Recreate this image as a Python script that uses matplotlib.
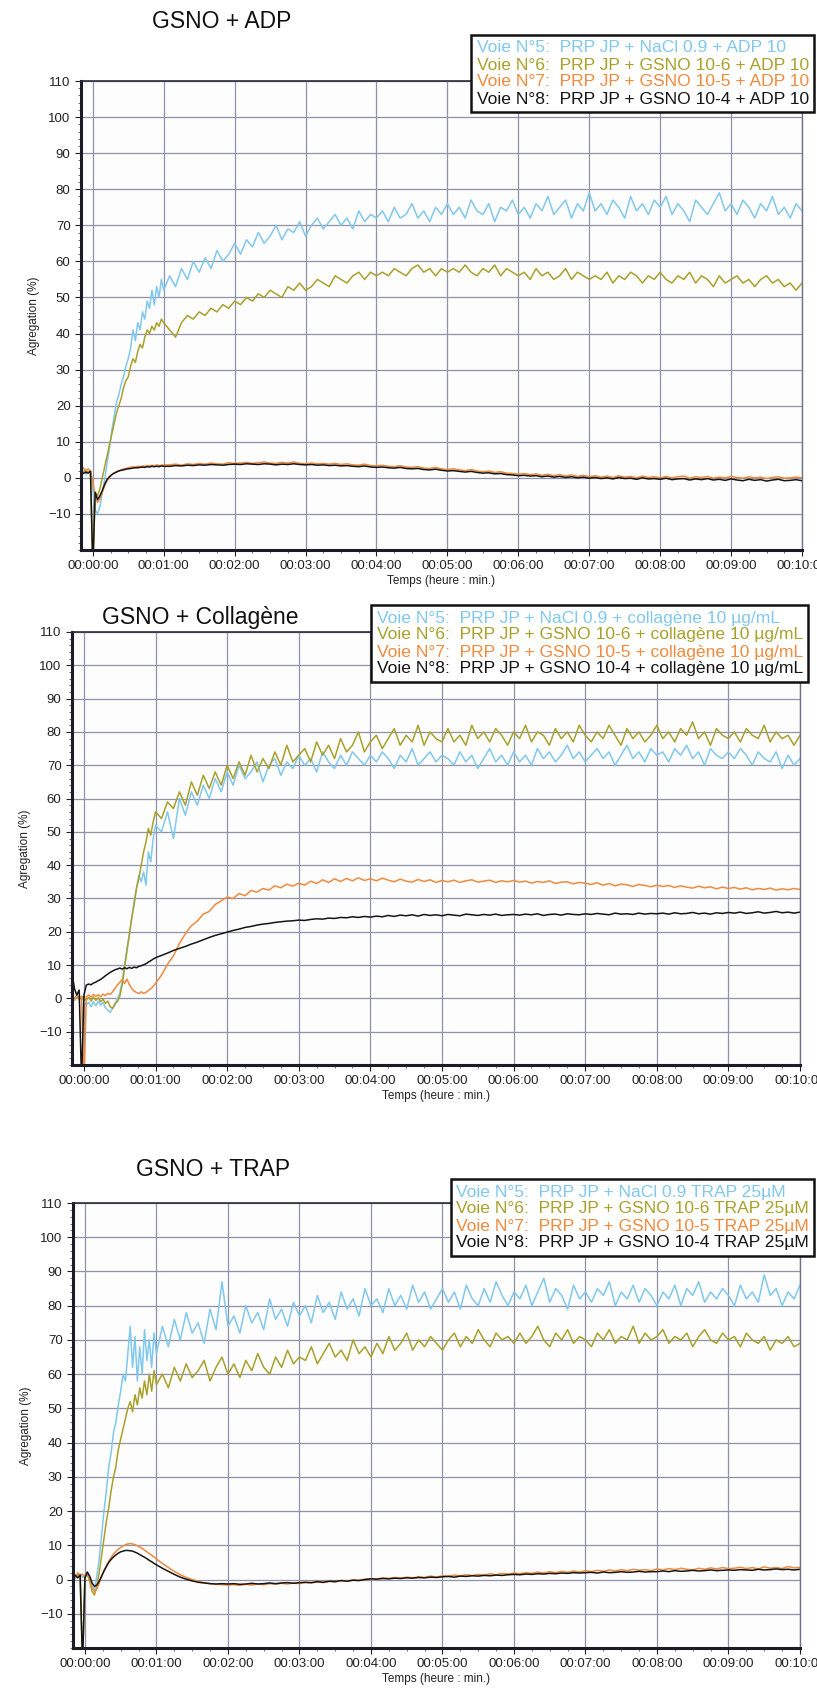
import numpy as np
import matplotlib.pyplot as plt
from matplotlib.ticker import MultipleLocator, FuncFormatter
from matplotlib.lines import Line2D

plt.rcParams['font.family'] = ['Liberation Sans', 'DejaVu Sans']

W, H = 817, 1698

# sampling times in seconds (fine at the start, coarser afterwards)
t_early = np.arange(-10, 61, 2)
t_late = np.arange(65, 601, 5)
t_all = np.concatenate([t_early, t_late])

colors = ['#80c8ec', '#a9a12a', '#f08a3c', '#151515']

# ---------------- GSNO + ADP ----------------
adp_blue_early = [1.2, 2.0, 1.0, 1.8, 1.4, -3, -9, -10, -8, -4, -0.5, 4, 8, 13, 17, 21, 23, 26,
                  28, 31, 33, 36, 41, 38, 43, 41, 46, 44, 49, 47, 52, 48, 53, 50, 55, 52]
adp_blue_late = [56, 53, 58, 55, 60, 57, 61, 58, 63, 60, 62, 65,
                 62, 66, 64, 68, 65, 67, 70, 66, 69, 68, 71, 67,
                 70, 72, 69, 71, 73, 70, 72, 69, 74, 71, 73, 72,
                 74, 71, 75, 72, 73, 76, 72, 74, 71, 75, 73, 76,
                 73, 75, 72, 77, 74, 73, 76, 71, 75, 74, 77, 73,
                 75, 72, 76, 74, 78, 73, 75, 77, 72, 76, 74, 79,
                 74, 76, 73, 77, 75, 72, 78, 74, 76, 73, 77, 75,
                 78, 73, 76, 74, 71, 77, 75, 73, 76, 79, 74, 76,
                 73, 77, 75, 72, 76, 74, 78, 73, 75, 72, 76, 74]
adp_olive_early = [1.8, 1.3, 2.2, 1.5, 1.9, -25, -4, -5, -3, 0, 3, 6, 9, 12, 15, 18, 20, 22,
                   25, 27, 28, 31, 33, 32, 35, 37, 36, 39, 41, 40, 42, 41, 43, 42, 44, 43]
adp_olive_late = [41, 39, 43, 45, 44, 46, 45, 47, 46, 48, 47, 49,
                  48, 50, 49, 51, 50, 52, 51, 50, 53, 52, 54, 52,
                  53, 55, 54, 53, 56, 55, 54, 56, 57, 55, 57, 56,
                  57, 56, 58, 57, 56, 58, 59, 57, 58, 56, 58, 57,
                  58, 57, 59, 57, 56, 58, 57, 59, 56, 58, 57, 56,
                  57, 55, 58, 56, 57, 55, 56, 58, 55, 57, 56, 55,
                  56, 55, 57, 54, 56, 55, 57, 56, 54, 56, 55, 57,
                  55, 54, 56, 55, 57, 54, 56, 55, 53, 56, 54, 55,
                  56, 54, 55, 53, 55, 56, 54, 55, 53, 54, 52, 54]
adp_orange_early = [2.2, 2.8, 1.9, 2.5, 2.0, -1.0, -5, -6.8, -5.8, -4.0, -2.2, -0.8, 0.1, 0.8,
                    1.3, 1.7, 2.0, 2.2, 2.5, 2.6, 2.8, 2.9, 3.1, 3.0, 3.2, 3.1, 3.3, 3.2, 3.4,
                    3.3, 3.5, 3.3, 3.6, 3.4, 3.5, 3.6]
adp_orange_late = [3.6, 3.8, 3.5, 3.9, 3.7, 4.0, 3.8, 4.1, 3.9, 3.8, 4.2, 4.0,
                   4.1, 4.3, 4.0, 4.2, 4.4, 4.1, 4.0, 4.3, 4.1, 4.4, 4.0, 3.9,
                   4.1, 3.9, 4.0, 3.8, 4.0, 3.7, 3.9, 3.6, 3.5, 3.8, 3.4, 3.3,
                   3.5, 3.2, 3.1, 3.4, 3.0, 2.9, 3.1, 2.7, 2.6, 2.9, 2.5, 2.3,
                   2.5, 2.2, 2.0, 2.3, 1.9, 1.7, 1.9, 1.5, 1.7, 1.3, 1.2, 1.0,
                   1.2, 0.9, 1.1, 0.7, 1.0, 0.6, 0.9, 0.5, 0.8, 0.4, 0.7, 0.3,
                   0.6, 0.2, 0.5, 0.1, 0.6, 0.2, 0.4, 0.0, 0.5, 0.1, 0.3, 0.0,
                   0.4, 0.0, 0.3, 0.5, -0.1, 0.3, 0.1, 0.4, -0.1, 0.2, 0.0, 0.4,
                   0.1, -0.1, 0.3, 0.0, 0.2, -0.2, 0.1, 0.3, -0.1, 0.0, 0.2, 0.0]
adp_black_early = [1.5, 1.2, 1.6, 1.3, 1.8, -25, -4, -6, -5, -3.5, -1.8, -0.5, 0.3, 0.9, 1.3,
                   1.6, 1.9, 2.1, 2.2, 2.4, 2.5, 2.6, 2.7, 2.8, 2.8, 2.9, 3.0, 2.9, 3.1, 3.0,
                   3.2, 3.1, 3.2, 3.1, 3.3, 3.2]
adp_black_late = [3.2, 3.4, 3.3, 3.5, 3.4, 3.6, 3.5, 3.7, 3.6, 3.5, 3.7, 3.8,
                  3.7, 3.9, 3.8, 3.7, 3.9, 3.8, 3.6, 3.8, 3.7, 3.9, 3.7, 3.6,
                  3.7, 3.5, 3.6, 3.4, 3.5, 3.3, 3.4, 3.2, 3.1, 3.3, 3.0, 2.9,
                  3.0, 2.8, 2.7, 2.9, 2.6, 2.5, 2.6, 2.3, 2.2, 2.4, 2.1, 1.9,
                  2.0, 1.8, 1.6, 1.8, 1.5, 1.3, 1.4, 1.1, 1.2, 0.9, 0.8, 0.6,
                  0.7, 0.5, 0.6, 0.3, 0.5, 0.2, 0.4, 0.1, 0.3, 0.0, 0.2, -0.1,
                  0.1, -0.2, 0.0, -0.3, 0.1, -0.2, -0.1, -0.4, 0.0, -0.3, -0.2, -0.4,
                  -0.1, -0.5, -0.3, -0.2, -0.6, -0.3, -0.5, -0.2, -0.6, -0.4, -0.7, -0.3,
                  -0.6, -0.8, -0.4, -0.7, -0.5, -0.9, -0.6, -0.4, -0.8, -0.7, -0.5, -0.8]

# ---------------- GSNO + Collagene ----------------
col_blue_early = [0.2, -0.6, 0.5, -0.4, 0.3, -0.8, -2.0, -1.2, -2.5, -1.0, -2.2, -0.8, -2.0, -1.2,
                  -2.8, -3.5, -4.2, -3.0, -2.0, 0.0, 1.5, 5, 10, 15, 19, 24, 29, 33, 37, 35, 38,
                  34, 44, 41, 48, 52]
col_blue_late = [50, 56, 48, 60, 55, 62, 58, 64, 60, 66, 62, 68,
                 64, 70, 66, 68, 71, 65, 70, 72, 67, 71, 69, 73,
                 70, 72, 68, 74, 71, 69, 73, 70, 74, 72, 70, 73,
                 71, 74, 72, 69, 73, 71, 75, 70, 72, 74, 71, 73,
                 72, 70, 74, 71, 73, 69, 72, 75, 71, 73, 70, 74,
                 71, 73, 70, 75, 72, 74, 71, 73, 76, 72, 74, 71,
                 73, 75, 72, 74, 70, 73, 76, 72, 74, 71, 75, 73,
                 74, 71, 75, 73, 76, 72, 74, 70, 75, 73, 72, 74,
                 72, 75, 73, 70, 74, 72, 71, 74, 69, 73, 70, 72]
col_olive_early = [0.5, 0.0, 0.8, -0.3, 0.6, 0.2, -0.5, 0.3, -0.8, 0.4, -0.6, 0.2, -1.0, -0.2,
                   -1.5, -0.8, -2.5, -3.0, -1.5, -1.0, 0.5, 4, 9, 14, 19, 24, 28, 33, 36, 40,
                   44, 47, 51, 49, 53, 56]
col_olive_late = [54, 59, 57, 62, 58, 65, 61, 67, 63, 68, 64, 70,
                  66, 71, 67, 73, 68, 72, 69, 74, 70, 76, 71, 73,
                  75, 71, 77, 73, 76, 72, 78, 74, 76, 80, 74, 77,
                  79, 75, 78, 81, 76, 79, 77, 82, 76, 80, 78, 77,
                  81, 77, 79, 76, 82, 78, 80, 77, 81, 79, 76, 80,
                  78, 82, 77, 80, 79, 76, 81, 78, 80, 77, 82, 79,
                  77, 80, 78, 82, 79, 76, 81, 78, 80, 77, 79, 82,
                  78, 80, 77, 81, 79, 83, 78, 80, 76, 81, 79, 78,
                  80, 77, 81, 79, 78, 82, 77, 80, 78, 79, 76, 79]
col_orange_early = [0.5, -0.5, 0.8, 0.2, 0.6, -25, 0.5, 1.0, 0.4, 1.2, 0.6, 1.1, 0.5, 1.3, 0.8,
                    1.5, 1.2, 2.0, 3.0, 4.0, 4.8, 5.6, 4.5, 5.8, 4.2, 3.0, 2.2, 1.8, 1.4, 2.0,
                    1.5, 1.8, 2.4, 2.9, 3.6, 4.5]
col_orange_late = [7.0, 10.2, 12.8, 16.5, 19.4, 21.8, 23.2, 25.3, 26.1, 28.2, 29.3, 30.4,
                   30.0, 31.5, 30.8, 32.4, 31.9, 33.0, 32.5, 33.8, 33.2, 34.3, 33.7, 34.6,
                   34.0, 35.2, 34.5, 35.6, 34.8, 35.9, 35.1, 36.0, 35.3, 36.2, 35.4, 35.9,
                   35.3, 36.1, 35.5, 35.0, 35.8, 35.2, 34.9, 35.7, 35.1, 35.6, 34.8, 35.4,
                   35.0, 35.5, 34.8, 35.3, 35.6, 34.9, 35.2, 35.5, 34.8, 35.3, 35.0, 35.4,
                   34.9, 35.2, 34.6, 35.1, 34.8, 35.3, 34.5, 34.9, 35.0, 34.4, 34.8, 34.6,
                   34.2, 34.7, 34.0, 34.5, 33.8, 34.3, 34.1, 33.6, 34.2, 33.9, 33.5, 34.0,
                   33.6, 33.9, 33.3, 33.8, 33.4, 33.1, 33.7, 33.2, 33.5, 32.9, 33.4, 33.0,
                   33.3, 32.8, 33.2, 32.6, 33.0, 32.7, 33.1, 32.5, 32.9, 32.6, 33.0, 32.7]
col_black_early = [8, 3, 1, 2.5, -25, 1, 4, 4.3, 4.1, 4.6, 4.9, 5.3, 5.7, 6.2, 6.8, 7.3, 7.8, 8.2,
                   8.6, 8.8, 9.1, 8.8, 9.2, 8.9, 9.3, 9.0, 9.4, 9.2, 9.6, 9.8, 10.1, 10.4, 10.9,
                   11.3, 11.8, 12.2]
col_black_late = [12.9, 13.6, 14.4, 15.0, 15.6, 16.3, 16.9, 17.6, 18.3, 18.9, 19.4, 19.9,
                  20.4, 20.8, 21.3, 21.6, 22.0, 22.3, 22.5, 22.8, 23.0, 23.2, 23.3, 23.5,
                  23.4, 23.7, 23.9, 23.8, 24.1, 24.0, 24.3, 24.2, 24.5, 24.3, 24.6, 24.4,
                  24.7, 24.5, 24.9, 24.6, 25.0, 24.8, 25.1, 24.7, 25.2, 24.9, 25.1, 24.8,
                  25.2, 25.0, 24.8, 25.3, 25.1, 24.9, 25.2, 25.0, 25.3, 24.9, 25.1, 25.2,
                  25.0, 25.3, 25.1, 25.4, 24.9, 25.2, 25.3, 25.0, 25.4, 25.2, 25.1, 25.4,
                  25.2, 25.5, 25.3, 25.1, 25.6, 25.3, 25.4, 25.2, 25.6, 25.3, 25.5, 25.4,
                  25.6, 25.3, 25.7, 25.4, 25.5, 25.8, 25.4, 25.6, 25.3, 25.7, 25.5, 25.8,
                  25.6, 25.9, 25.5, 25.7, 26.0, 25.6, 25.8, 26.1, 25.7, 25.9, 25.6, 25.9]

# ---------------- GSNO + TRAP ----------------
trap_blue_early = [0.5, 1.5, 0.8, 1.7, 0.6, 1.2, 2.0, 0.5, -2.0, -3.0, 1.0, 6.0, 13, 20, 26, 33,
                   37, 43, 46, 51, 55, 60, 58, 66, 74, 62, 71, 58, 68, 60, 73, 64, 70, 62, 72, 66]
trap_blue_late = [74, 68, 76, 70, 78, 72, 75, 69, 79, 73, 87, 74,
                  77, 72, 80, 75, 78, 73, 82, 76, 79, 74, 81, 77,
                  80, 75, 83, 78, 81, 76, 84, 79, 82, 77, 85, 80,
                  82, 78, 85, 80, 83, 79, 86, 81, 84, 79, 82, 85,
                  81, 84, 79, 86, 82, 80, 85, 81, 87, 83, 80, 84,
                  82, 86, 80, 84, 88, 81, 85, 83, 79, 86, 82, 84,
                  81, 85, 83, 87, 80, 84, 82, 86, 81, 85, 83, 80,
                  84, 82, 86, 80, 85, 83, 87, 81, 84, 82, 85, 83,
                  80, 86, 82, 84, 81, 89, 83, 85, 80, 84, 82, 86]
trap_olive_early = [1.2, 0.4, 1.6, 0.8, -25, 0.6, 1.5, -0.5, -3.5, -4.5, -2.0, 2.0, 7, 12, 17, 21,
                    26, 30, 33, 38, 41, 44, 47, 50, 52, 49, 54, 51, 56, 53, 58, 54, 60, 55, 61, 57]
trap_olive_late = [60, 56, 62, 58, 63, 59, 61, 64, 58, 62, 65, 60,
                   63, 59, 64, 61, 66, 62, 60, 65, 62, 67, 63, 65,
                   64, 68, 63, 66, 69, 65, 67, 64, 70, 66, 68, 65,
                   69, 66, 71, 67, 69, 72, 67, 70, 68, 71, 69, 67,
                   70, 72, 68, 71, 69, 73, 70, 68, 72, 70, 71, 69,
                   72, 69, 71, 74, 70, 68, 72, 70, 73, 69, 71, 70,
                   68, 72, 70, 73, 69, 71, 70, 74, 69, 72, 70, 71,
                   73, 69, 71, 70, 72, 68, 71, 73, 70, 69, 72, 70,
                   71, 68, 72, 70, 69, 71, 67, 70, 69, 71, 68, 69]
trap_orange_early = [1.5, 0.6, 2.0, 1.0, 1.6, 0.8, 1.8, 0.0, -2.5, -3.5, -2.8, -1.0, 0.8, 2.5, 4.0,
                     5.3, 6.5, 7.4, 8.2, 8.9, 9.4, 9.8, 10.2, 10.4, 10.5, 10.4, 10.2, 9.9, 9.5,
                     9.1, 8.6, 8.1, 7.6, 7.1, 6.6, 6.0]
trap_orange_late = [4.7, 3.5, 2.4, 1.4, 0.6, 0.0, -0.5, -0.9, -1.2, -1.4, -1.5, -1.6,
                    -1.5, -1.7, -1.4, -1.6, -1.3, -1.5, -1.2, -1.4, -1.1, -1.3, -1.0, -1.2,
                    -0.9, -1.0, -0.7, -0.9, -0.5, -0.7, -0.3, -0.4, -0.1, -0.2, 0.1, 0.3,
                    0.2, 0.5, 0.3, 0.6, 0.4, 0.7, 0.5, 0.8, 0.6, 1.0, 0.7, 1.1,
                    1.0, 1.3, 1.1, 1.4, 1.2, 1.5, 1.3, 1.7, 1.4, 1.8, 1.6, 1.9,
                    1.7, 2.0, 1.8, 2.2, 1.9, 2.3, 2.0, 2.4, 2.1, 2.5, 2.2, 2.6,
                    2.3, 2.7, 2.4, 2.8, 2.5, 2.9, 2.6, 3.0, 2.7, 2.9, 2.6, 3.1,
                    2.8, 3.2, 2.9, 3.3, 3.0, 2.8, 3.3, 3.0, 3.4, 3.1, 3.5, 3.2,
                    3.3, 3.6, 3.2, 3.5, 3.1, 3.7, 3.3, 3.5, 3.2, 3.8, 3.4, 3.6]
trap_black_early = [0.8, 1.2, 0.5, 1.3, -25, 0.5, 2.2, 1.0, -1.0, -2.0, -1.6, -0.5, 1.0, 2.5, 3.8,
                    5.0, 5.9, 6.6, 7.2, 7.7, 8.1, 8.3, 8.5, 8.5, 8.4, 8.3, 8.0, 7.7, 7.3, 6.9,
                    6.5, 6.1, 5.6, 5.2, 4.7, 4.3]
trap_black_late = [3.3, 2.4, 1.5, 0.7, 0.1, -0.4, -0.8, -1.0, -1.2, -1.3, -1.2, -1.3,
                   -1.2, -1.4, -1.3, -1.1, -1.3, -1.2, -1.0, -1.2, -1.0, -0.9, -1.1, -0.9,
                   -0.8, -0.9, -0.6, -0.8, -0.5, -0.6, -0.3, -0.5, -0.2, -0.3, 0.0, 0.2,
                   0.1, 0.3, 0.2, 0.4, 0.3, 0.5, 0.4, 0.6, 0.5, 0.7, 0.6, 0.8,
                   0.9, 0.7, 1.0, 0.9, 1.1, 1.0, 1.2, 1.1, 1.3, 1.2, 1.4, 1.5,
                   1.4, 1.6, 1.5, 1.7, 1.6, 1.8, 1.7, 1.9, 1.8, 2.0, 1.9, 2.0,
                   2.1, 1.9, 2.2, 2.0, 2.1, 2.3, 2.1, 2.2, 2.4, 2.2, 2.3, 2.3,
                   2.5, 2.3, 2.6, 2.4, 2.5, 2.7, 2.5, 2.6, 2.8, 2.6, 2.7, 2.8,
                   2.7, 2.9, 2.8, 2.7, 3.0, 2.8, 2.9, 3.1, 2.9, 3.0, 2.8, 3.0]

adp_labels = ['Voie N°5:  PRP JP + NaCl 0.9 + ADP 10',
              'Voie N°6:  PRP JP + GSNO 10-6 + ADP 10',
              'Voie N°7:  PRP JP + GSNO 10-5 + ADP 10',
              'Voie N°8:  PRP JP + GSNO 10-4 + ADP 10']
col_labels = ['Voie N°5:  PRP JP + NaCl 0.9 + collagène 10 µg/mL',
              'Voie N°6:  PRP JP + GSNO 10-6 + collagène 10 µg/mL',
              'Voie N°7:  PRP JP + GSNO 10-5 + collagène 10 µg/mL',
              'Voie N°8:  PRP JP + GSNO 10-4 + collagène 10 µg/mL']
trap_labels = ['Voie N°5:  PRP JP + NaCl 0.9 TRAP 25µM',
               'Voie N°6:  PRP JP + GSNO 10-6 TRAP 25µM',
               'Voie N°7:  PRP JP + GSNO 10-5 TRAP 25µM',
               'Voie N°8:  PRP JP + GSNO 10-4 TRAP 25µM']


def hms(x, pos):
    s = int(round(x))
    return '00:%02d:%02d' % (s // 60, s % 60)


fig = plt.figure(figsize=(W / 100, H / 100), dpi=100)


def panel(box, title, title_xy, series, labels, leg_corner):
    left, top, right, bottom = box
    ax = fig.add_axes([left / W, 1 - bottom / H, (right - left) / W, (bottom - top) / H])
    ax.set_facecolor('#fdfdfd')
    for (early, late), c in zip(series, colors):
        ax.plot(t_all, np.concatenate([early, late]), color=c, lw=1.1)
    ax.set_xlim(-10, 600)
    ax.set_ylim(-20, 110)
    ax.xaxis.set_major_locator(MultipleLocator(60))
    ax.xaxis.set_minor_locator(MultipleLocator(15))
    ax.xaxis.set_major_formatter(FuncFormatter(hms))
    ax.yaxis.set_minor_locator(MultipleLocator(2))
    ax.set_yticks(np.arange(-10, 111, 10))
    ax.grid(True, which='major', color='#8e93aa', lw=0.9)
    ax.set_axisbelow(True)
    ax.tick_params(which='major', length=4, width=0.8, labelsize=9.5, colors='#222222')
    ax.tick_params(which='minor', length=2, width=0.6, colors='#555555')
    for side in ['left', 'bottom']:
        ax.spines[side].set_linewidth(2.2)
        ax.spines[side].set_color('#1c1c28')
    ax.spines['top'].set_linewidth(1.2)
    ax.spines['top'].set_color('#2a2a35')
    ax.spines['right'].set_linewidth(1.0)
    ax.spines['right'].set_color('#6c7088')
    ax.set_ylabel('Agregation (%)', fontsize=8.5, color='#222222', labelpad=6)
    ax.set_xlabel('Temps (heure : min.)', fontsize=8.5, color='#222222', labelpad=2)
    fig.text(title_xy[0] / W, 1 - title_xy[1] / H, title, fontsize=16.5,
             ha='center', va='center', color='#111111')
    handles = [Line2D([], [], color=c, lw=0) for c in colors]
    leg = ax.legend(handles, labels, loc='upper right',
                    bbox_to_anchor=(leg_corner[0] / W, 1 - leg_corner[1] / H),
                    bbox_transform=fig.transFigure, borderaxespad=0,
                    handlelength=0, handletextpad=0,
                    labelcolor=colors, fontsize=12.6, labelspacing=0.1, borderpad=0.3,
                    fancybox=False, framealpha=1, edgecolor='#111111')
    leg.get_frame().set_linewidth(1.8)
    return ax


panel((81, 81, 802, 550), 'GSNO + ADP', (222, 22),
      [(adp_blue_early, adp_blue_late), (adp_olive_early, adp_olive_late),
       (adp_orange_early, adp_orange_late), (adp_black_early, adp_black_late)],
      adp_labels, (814, 35))
panel((72, 632, 800, 1065), 'GSNO + Collagène', (200, 618),
      [(col_blue_early, col_blue_late), (col_olive_early, col_olive_late),
       (col_orange_early, col_orange_late), (col_black_early, col_black_late)],
      col_labels, (808, 605))
panel((73, 1203, 800, 1648), 'GSNO + TRAP', (213, 1170),
      [(trap_blue_early, trap_blue_late), (trap_olive_early, trap_olive_late),
       (trap_orange_early, trap_orange_late), (trap_black_early, trap_black_late)],
      trap_labels, (814, 1179))

fig.savefig('out.png', dpi=100)
